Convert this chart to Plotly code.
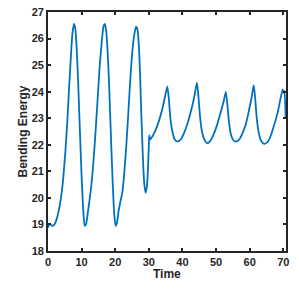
import plotly.graph_objects as go

time = [0, 0.4, 0.8, 1.2, 1.7, 2.3, 3.0, 3.8, 4.5, 5.2, 5.8, 6.3, 6.8, 7.2, 7.7, 8.1, 8.5, 8.9, 9.3, 9.7,
        10.1, 10.5, 10.9, 11.3, 11.8, 12.4, 13.0, 13.6, 14.2, 14.8, 15.4, 16.0, 16.5, 16.9, 17.3, 17.7,
        18.1, 18.5, 18.9, 19.3, 19.7, 20.1, 20.5, 21.0, 21.6, 22.1, 22.6, 23.2, 23.8, 24.4, 25.0, 25.6,
        26.2, 26.6, 27.0, 27.4, 27.8, 28.2, 28.6, 29.0, 29.4, 29.7, 30.0, 30.1, 30.4,
        31.0, 32.0, 33.0, 34.0, 34.8, 35.5, 35.9, 36.4, 37.0, 37.7, 38.5, 39.5, 40.5, 41.5, 42.5, 43.5,
        44.3, 44.7, 45.2, 45.8, 46.5, 47.3, 48.3, 49.3, 50.3, 51.3, 52.2, 52.9, 53.3, 53.8, 54.4, 55.1,
        55.9, 56.9, 57.9, 58.9, 59.8, 60.6, 61.2, 61.6, 62.1, 62.7, 63.4, 64.3, 65.3, 66.3, 67.3, 68.3,
        69.1, 69.8, 70.1, 70.35, 70.7]
energy = [18.88, 19.02, 19.0, 18.95, 18.97, 19.1, 19.4, 19.95, 20.7, 21.8, 23.0, 24.2, 25.3, 26.1, 26.55,
          26.4, 25.7, 24.6, 23.2, 21.8, 20.5, 19.5, 18.95, 19.0, 19.4, 19.95, 20.6, 21.5, 22.6, 23.8,
          25.0, 25.9, 26.45, 26.55, 26.3, 25.6, 24.5, 23.1, 21.7, 20.4, 19.4, 18.95, 19.05, 19.5, 19.9,
          20.2, 20.8, 21.8, 23.0, 24.3, 25.4, 26.1, 26.45, 26.35, 25.8, 24.6, 23.0, 21.6, 20.6, 20.2,
          20.4, 21.0, 22.0, 22.35, 22.2,
          22.3, 22.55, 22.9, 23.35, 23.8, 24.2, 23.8, 23.0, 22.5, 22.2, 22.12, 22.2, 22.45, 22.8, 23.25,
          23.8, 24.34, 23.9, 23.1, 22.5, 22.2, 22.06, 22.15, 22.4, 22.75, 23.2, 23.6, 23.99, 23.6, 22.9,
          22.4, 22.18, 22.12, 22.2, 22.45, 22.8, 23.3, 23.8, 24.25, 23.8, 23.0, 22.45, 22.15, 22.03,
          22.1, 22.35, 22.75, 23.2, 23.7, 24.09, 23.95, 24.02, 23.0]

x_ticks = [0, 10, 20, 30, 40, 50, 60, 70]
y_ticks = [18, 19, 20, 21, 22, 23, 24, 25, 26, 27]

FONT = "Liberation Sans"
INK = "#262626"

fig = go.Figure(go.Scatter(x=time, y=energy, mode="lines",
                           line=dict(color="#0072BD", width=1.8, shape="spline", smoothing=0.5)))

axis_common = dict(showline=True, linecolor=INK, linewidth=1.6, mirror="ticks",
                   ticks="inside", ticklen=3, tickwidth=1.5, tickcolor=INK,
                   showgrid=False, zeroline=False, automargin=False,
                   tickfont=dict(family=FONT, size=11, color=INK, weight="bold"))

fig.update_layout(
    width=299, height=300,
    margin=dict(l=48, r=13, t=12, b=49),
    plot_bgcolor="white", paper_bgcolor="white",
    showlegend=False,
    xaxis=dict(range=[0, 70.8], tickvals=x_ticks, **axis_common),
    yaxis=dict(range=[18, 27], tickvals=y_ticks, **axis_common),
    annotations=[
        dict(text="Time", xref="paper", yref="paper", x=0.5, y=0, yshift=-23,
             xanchor="center", yanchor="middle", showarrow=False,
             font=dict(family=FONT, size=12, color=INK, weight="bold")),
        dict(text="Bending Energy", xref="paper", yref="paper", x=0, y=0.5, xshift=-26,
             xanchor="center", yanchor="middle", textangle=-90, showarrow=False,
             font=dict(family=FONT, size=12, color=INK, weight="bold")),
    ],
)

fig.write_html("out.html", config={"displayModeBar": False},
               post_script="document.body.style.margin='0';")
